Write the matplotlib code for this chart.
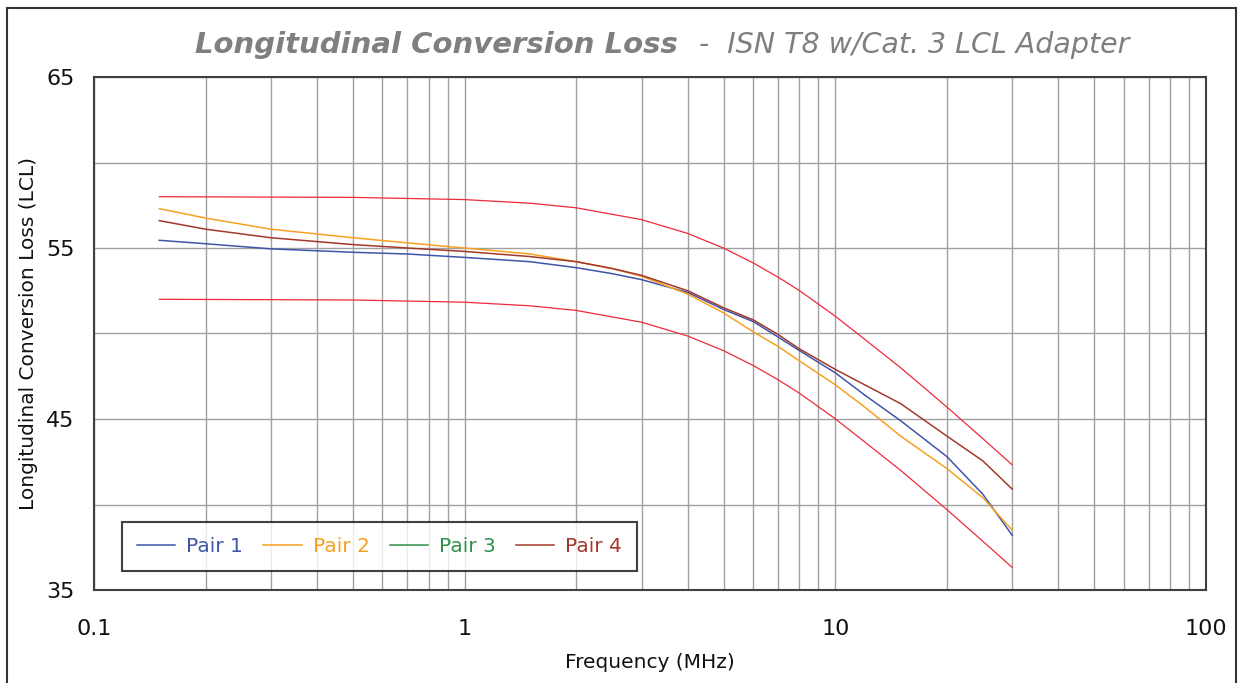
import matplotlib
matplotlib.use("Agg")
import matplotlib.pyplot as plt
from matplotlib.patches import Rectangle

# frequency grid (MHz) for the measured pairs
freq = [0.15, 0.2, 0.3, 0.5, 0.7, 1, 1.5, 2, 2.5, 3, 4, 5, 6, 7, 8, 10, 12, 15, 20, 25, 30]
pair1 = [55.45, 55.25, 54.95, 54.75, 54.65, 54.45, 54.2, 53.85, 53.5, 53.15, 52.4,
         51.4, 50.7, 49.8, 49.0, 47.7, 46.4, 44.9, 42.8, 40.6, 38.2]
pair2 = [57.3, 56.75, 56.1, 55.6, 55.3, 55.0, 54.65, 54.2, 53.8, 53.35, 52.3,
         51.2, 50.1, 49.25, 48.4, 47.0, 45.7, 44.0, 42.1, 40.4, 38.5]
pair3 = []  # not visible in the chart
pair4 = [56.6, 56.1, 55.6, 55.2, 55.0, 54.8, 54.5, 54.2, 53.8, 53.4, 52.5,
         51.5, 50.8, 49.95, 49.1, 47.9, 47.0, 45.9, 44.0, 42.55, 40.9]

# limit lines
lim_freq = [0.15, 0.5, 1, 1.5, 2, 3, 4, 5, 6, 7, 8, 10, 12, 15, 20, 25, 30]
upper_lim = [58.0, 57.96, 57.83, 57.62, 57.35, 56.66, 55.85, 54.99, 54.13, 53.3,
             52.51, 51.01, 49.66, 48.0, 45.7, 43.85, 42.32]
lower_lim = [52.0, 51.96, 51.83, 51.62, 51.35, 50.66, 49.85, 48.99, 48.13, 47.3,
             46.51, 45.01, 43.66, 42.0, 39.7, 37.85, 36.32]

y_ticks = [35, 45, 55, 65]
x_ticks = [0.1, 1, 10, 100]
x_labels = ["0.1", "1", "10", "100"]

plt.rcParams["font.family"] = ["DejaVu Sans"]

fig = plt.figure(figsize=(12.38, 6.83), dpi=100)
ax = fig.add_axes([94 / 1238, 1 - 590 / 683, 1112 / 1238, 513 / 683])

red = "#ee2a3c"
ax.plot(lim_freq, upper_lim, color=red, lw=0.9, zorder=3)
ax.plot(lim_freq, lower_lim, color=red, lw=0.9, zorder=3)
ax.plot(freq, pair1, color="#3f55a8", lw=1.1, label="Pair 1", zorder=4)
ax.plot(freq, pair2, color="#f7a123", lw=1.1, label="Pair 2", zorder=4)
ax.plot(pair3, pair3, color="#2d9148", lw=1.1, label="Pair 3", zorder=4)
ax.plot(freq, pair4, color="#a3392b", lw=1.1, label="Pair 4", zorder=5)

ax.set_xscale("log")
ax.set_xlim(0.1, 100)
ax.set_ylim(35, 65)
ax.set_yticks(range(35, 66, 5), minor=False)
ax.set_yticklabels([str(v) if v in y_ticks else "" for v in range(35, 66, 5)])
ax.set_xticks(x_ticks)
ax.set_xticklabels(x_labels)
ax.grid(True, which="both", color="#a0a0a0", lw=1.0)
ax.tick_params(which="both", length=0, labelsize=16, colors="#111111", pad=14)
ax.tick_params(axis="x", pad=21)
for s in ax.spines.values():
    s.set_color("#404040")
    s.set_linewidth(1.5)

ax.set_xlabel("Frequency (MHz)", fontsize=14.5, color="#111111", labelpad=10)
ax.set_ylabel("Longitudinal Conversion Loss (LCL)", fontsize=14.5, color="#111111", labelpad=6)

leg = ax.legend(ncol=4, loc="lower left", bbox_to_anchor=(0.025, 0.037),
                borderaxespad=0, fontsize=14.5, fancybox=False, frameon=True,
                handlelength=1.9, columnspacing=1.0, borderpad=0.75, handletextpad=0.55)
leg.get_frame().set_edgecolor("#111111")
leg.get_frame().set_linewidth(1.5)
for t, l in zip(leg.get_texts(), leg.get_lines()):
    t.set_color(l.get_color())

fig.text(678 / 1238, 1 - 45 / 683, "Longitudinal Conversion Loss", fontsize=21,
         fontweight="bold", fontstyle="italic", color="#7f7f7f", ha="right", va="center")
fig.text(690 / 1238, 1 - 45 / 683, " -  ISN T8 w/Cat. 3 LCL Adapter", fontsize=20.5,
         fontstyle="italic", color="#7f7f7f", ha="left", va="center")

fig.patches.append(Rectangle((7 / 1238, -0.05), 1229 / 1238, 1.05 - 8 / 683,
                             transform=fig.transFigure, fill=False,
                             edgecolor="#333333", lw=1.5))

fig.savefig("out.png", dpi=100)
